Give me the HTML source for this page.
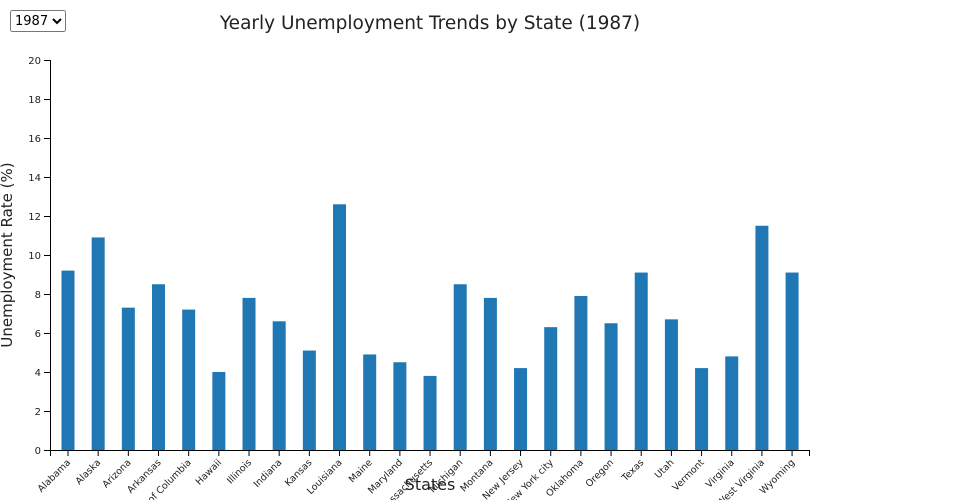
<!DOCTYPE html><html><head><style>html,body{margin:0;background:#fff;width:960px;height:500px;overflow:hidden;font-family:"DejaVu Sans","Liberation Sans",sans-serif}
select{position:absolute;left:10px;top:10px;font-size:13px;height:22px;font-family:inherit}</style></head><body>
<select><option>1987</option></select>
<svg width="960" height="500" style="position:absolute;left:0;top:0;display:block" id="s"></svg>
<script>
const d=[["Alabama",9.2],["Alaska",10.9],["Arizona",7.3],["Arkansas",8.5],["District of Columbia",7.2],["Hawaii",4.0],["Illinois",7.8],["Indiana",6.6],["Kansas",5.1],["Louisiana",12.6],["Maine",4.9],["Maryland",4.5],["Massachusetts",3.8],["Michigan",8.5],["Montana",7.8],["New Jersey",4.2],["New York city",6.3],["Oklahoma",7.9],["Oregon",6.5],["Texas",9.1],["Utah",6.7],["Vermont",4.2],["Virginia",4.8],["West Virginia",11.5],["Wyoming",9.1]];
let h='<text x="430" y="29" font-size="18.5" text-anchor="middle" fill="#222">Yearly Unemployment Trends by State (1987)</text>';
h+='<line x1="50.5" y1="60" x2="50.5" y2="450" stroke="#000"/><line x1="50" y1="450.5" x2="810" y2="450.5" stroke="#000"/><line x1="809.5" y1="450" x2="809.5" y2="456" stroke="#000"/><line x1="50.5" y1="450" x2="50.5" y2="456" stroke="#000"/>';
for(let v=0;v<=20;v+=2){const y=450-v*19.5;h+=`<line x1="44" y1="${y+.5}" x2="50" y2="${y+.5}" stroke="#000"/><text x="41" y="${y+4}" font-size="10" text-anchor="end" fill="#222">${v}</text>`;}
d.forEach((e,i)=>{const c=68+i*30.17,y=450-e[1]*19.5;h+=`<rect x="${c-6.5}" y="${y}" width="13" height="${450-y}" fill="#1f77b4"/><line x1="${c}" y1="450" x2="${c}" y2="456" stroke="#000"/><text transform="translate(${c+3},${463}) rotate(-45)" font-size="9.5" text-anchor="end" fill="#222">${e[0]}</text>`;});
h+='<text x="430" y="490" font-size="16" text-anchor="middle" fill="#222">States</text><text transform="translate(12,255) rotate(-90)" font-size="15" text-anchor="middle" fill="#222">Unemployment Rate (%)</text>';
document.getElementById('s').innerHTML=h;
</script></body></html>
